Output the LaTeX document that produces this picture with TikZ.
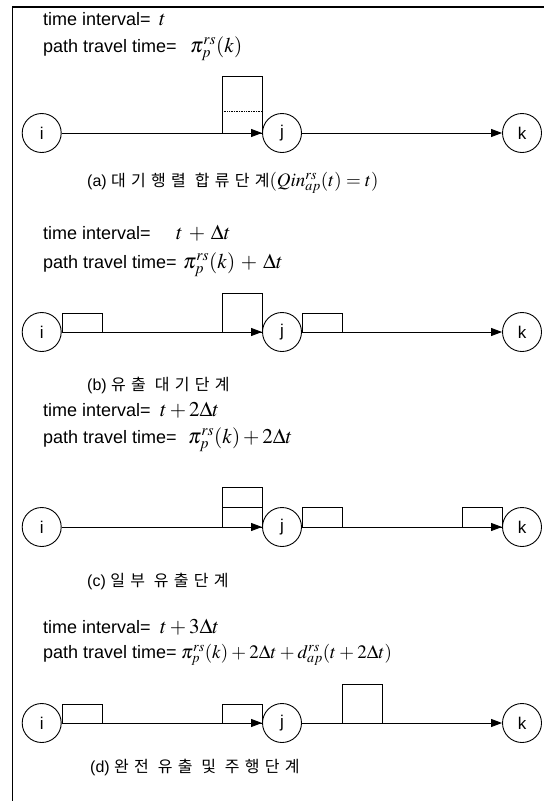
\documentclass[tikz,border=0pt]{standalone}
\usepackage{mathptmx}
\usepackage[no-math]{fontspec}
\setmainfont{Liberation Sans}
\newfontfamily\kr[LetterSpace=33]{Noto Sans CJK KR}
\usetikzlibrary{arrows.meta}
\tikzset{
  nd/.style={circle,draw,line width=0.9pt,minimum size=39pt,inner sep=0pt,font=\fontsize{17}{17}\selectfont},
  lbl/.style={anchor=base west,inner sep=0pt,font=\fontsize{18}{18}\selectfont},
  mth/.style={anchor=base west,inner sep=0pt,font=\fontsize{21}{21}\selectfont},
  mths/.style={anchor=base west,inner sep=0pt,font=\fontsize{19}{19}\selectfont},
  captxt/.style={anchor=base west,inner sep=0pt,font=\fontsize{16}{16}\selectfont},
  bx/.style={draw,line width=0.9pt},
  link/.style={line width=0.9pt,-{Triangle[length=11pt,width=8pt]}},
  framel/.style={line width=1.3pt}
}
\begin{document}
\begin{tikzpicture}[x=1pt,y=-1pt]
\useasboundingbox (0,0) rectangle (544,801);
\draw[framel] (12.7,801) -- (12.7,7) -- (544,7);
% ---------- (a)
\node[lbl] (ta) at (43,25) {time interval=};
\node[mth] (tam) at (159,25) {$t$};
\node[lbl] (pa) at (43,52) {path travel time=};
\node[mth] (pam) at (190,52) {$\pi_p^{rs}(k)$};
\draw[bx] (222,133) rectangle (262,76);
\draw[line width=0.7pt,densely dotted] (222,111) -- (262,111);
\node[nd] (ia) at (41.7,133) {i};
\node[nd] (ja) at (282,133) {j};
\node[nd] (ka) at (522,133) {k};
\draw[link] (ia) -- (ja);
\draw[link] (ja) -- (ka);
\node[captxt] (ca) at (87,186) {(a) {\kr 대기행렬 합류단계}{\fontsize{19}{19}\selectfont$(Qin_{ap}^{rs}(t)=t)$}};
% ---------- (b)
\node[lbl] (tb) at (43,239) {time interval=};
\node[mth] (tbm) at (176,239) {$\medmuskip=5mu t+\Delta t$};
\node[lbl] (pb) at (43,268) {path travel time=};
\node[mth] (pbm) at (183,268) {$\medmuskip=5mu \pi_p^{rs}(k)+\Delta t$};
\draw[bx] (62,332) rectangle (102,313);
\draw[bx] (222,332) rectangle (262,293);
\draw[bx] (302,332) rectangle (342,313);
\node[nd] (ib) at (41.7,332) {i};
\node[nd] (jb) at (282,332) {j};
\node[nd] (kb) at (522,332) {k};
\draw[link] (ib) -- (jb);
\draw[link] (jb) -- (kb);
\node[captxt] (cb) at (87,390) {(b) {\kr 유출 대기단계}};
% ---------- (c)
\node[lbl] (tc) at (43,416) {time interval=};
\node[mth] (tcm) at (160,416) {$t+2\Delta t$};
\node[lbl] (pc) at (43,443) {path travel time=};
\node[mth] (pcm) at (188,443) {$\pi_p^{rs}(k)+2\Delta t$};
\draw[bx] (222,527) rectangle (262,487);
\draw[bx] (222,507) -- (262,507);
\draw[bx] (302,527) rectangle (342,507);
\draw[bx] (462,527) rectangle (502,507);
\node[nd] (ic) at (41.7,527) {i};
\node[nd] (jc) at (282,527) {j};
\node[nd] (kc) at (522,527) {k};
\draw[link] (ic) -- (jc);
\draw[link] (jc) -- (kc);
\node[captxt] (cc) at (87,586) {(c) {\kr 일부 유출단계}};
% ---------- (d)
\node[lbl] (td) at (43,633) {time interval=};
\node[mth] (tdm) at (160,633) {$t+3\Delta t$};
\node[lbl] (pd) at (43,658) {path travel time=};
\node[mths] (pdm) at (181,658) {$\medmuskip=3mu \pi_p^{rs}(k)+2\Delta t+d_{ap}^{rs}(t+2\Delta t)$};
\draw[bx] (62,723) rectangle (102,704);
\draw[bx] (222,723) rectangle (262,704);
\draw[bx] (342,723) rectangle (382,684);
\node[nd] (id) at (41.7,723) {i};
\node[nd] (jd) at (282,723) {j};
\node[nd] (kd) at (522,723) {k};
\draw[link] (id) -- (jd);
\draw[link] (jd) -- (kd);
\node[captxt] (cd) at (90,772) {(d) {\kr 완전 유출 및 주행단계}};
\end{tikzpicture}
\end{document}
